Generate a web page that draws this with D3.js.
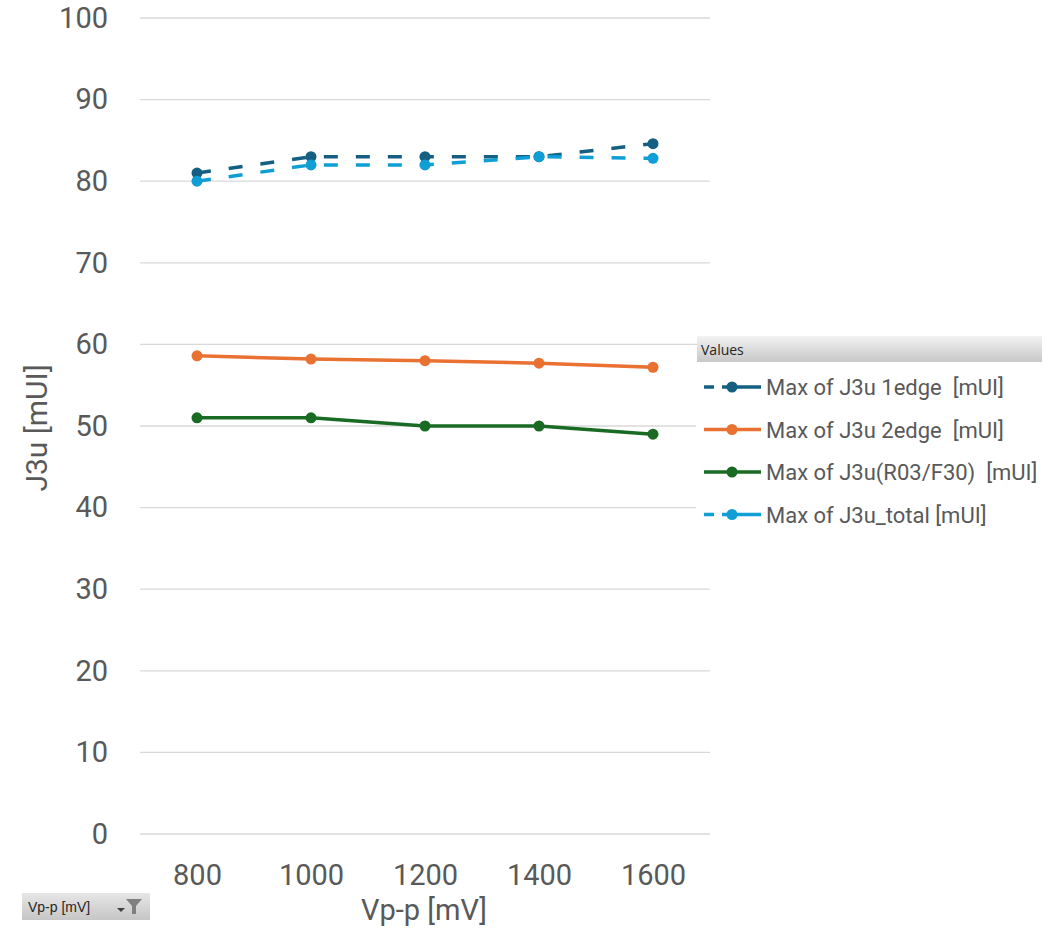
<html>
<head>
<meta charset="utf-8">
<script src="https://d3js.org/d3.v7.min.js"></script>
<style>
  body { margin: 0; background: #fff; }
  text { font-family: Roboto, "Noto Sans", sans-serif; }
</style>
</head>
<body>
<div id="chart"></div>
<script>

// data
var categories = [800, 1000, 1200, 1400, 1600];
var edge1 = [81.0, 83.0, 83.0, 83.0, 84.6];
var edge2 = [58.6, 58.2, 58.0, 57.7, 57.2];
var r03f30 = [51.0, 51.0, 50.0, 50.0, 49.0];
var total = [80.0, 82.0, 82.0, 83.0, 82.8];
var yTicks = [0, 10, 20, 30, 40, 50, 60, 70, 80, 90, 100];

var seriesNames = ["Max of J3u 1edge  [mUI]", "Max of J3u 2edge  [mUI]",
                   "Max of J3u(R03/F30)  [mUI]", "Max of J3u_total [mUI]"];
var seriesColors = ["#156082", "#E97132", "#196B24", "#0F9ED5"];
var seriesDashed = [true, false, false, true];
var seriesValues = [edge1, edge2, r03f30, total];

var series = seriesNames.map(function(n, i) {
  return { name: n, color: seriesColors[i], dashed: seriesDashed[i], values: seriesValues[i] };
});

var W = 1055, H = 931;
var plot = { left: 140, right: 710, top: 18, bottom: 834 };

var svg = d3.select("#chart").append("svg")
  .attr("width", W).attr("height", H);
var defs = svg.append("defs");

var x = d3.scalePoint()
  .domain(categories)
  .range([plot.left, plot.right])
  .padding(0.5);

var y = d3.scaleLinear()
  .domain([0, 100])
  .range([plot.bottom, plot.top]);

// gridlines
svg.append("g")
  .selectAll("line")
  .data(yTicks)
  .enter().append("line")
    .attr("x1", plot.left).attr("x2", plot.right)
    .attr("y1", function(d) { return y(d); })
    .attr("y2", function(d) { return y(d); })
    .attr("stroke", "#d9d9d9").attr("stroke-width", 1.3);

// y axis labels
var yAxis = svg.append("g")
  .attr("transform", "translate(" + (plot.left - 32) + ",0)")
  .call(d3.axisLeft(y).tickValues(yTicks).tickSize(0).tickPadding(0));
yAxis.select(".domain").remove();
yAxis.selectAll("text")
  .attr("fill", "#595959").style("font-size", "29px")
  .style("font-family", "Roboto, sans-serif");

// x axis labels
var xAxis = svg.append("g")
  .attr("transform", "translate(0," + (plot.bottom + 30) + ")")
  .call(d3.axisBottom(x).tickSize(0).tickPadding(0));
xAxis.select(".domain").remove();
xAxis.selectAll("text")
  .attr("fill", "#595959").style("font-size", "29px")
  .style("font-family", "Roboto, sans-serif");

// axis titles
svg.append("text")
  .attr("transform", "translate(47,428)rotate(-90)")
  .attr("text-anchor", "middle")
  .attr("fill", "#595959").style("font-size", "30px")
  .text("J3u [mUI]");

svg.append("text")
  .attr("x", 424).attr("y", 920)
  .attr("text-anchor", "middle")
  .attr("fill", "#595959").style("font-size", "29px")
  .text("Vp-p [mV]");

// lines
var line = d3.line()
  .x(function(d, i) { return x(categories[i]); })
  .y(function(d) { return y(d); });

var gs = svg.selectAll(".series")
  .data(series)
  .enter().append("g").attr("class", "series");

gs.append("path")
  .attr("d", function(d) { return line(d.values); })
  .attr("fill", "none")
  .attr("stroke", function(d) { return d.color; })
  .attr("stroke-width", 3.5)
  .attr("stroke-dasharray", function(d) { return d.dashed ? "14,18" : null; });

gs.selectAll("circle")
  .data(function(d) { return d.values.map(function(v, i) { return { v: v, i: i, c: d.color }; }); })
  .enter().append("circle")
    .attr("cx", function(d) { return x(categories[d.i]); })
    .attr("cy", function(d) { return y(d.v); })
    .attr("r", 5.5)
    .attr("fill", function(d) { return d.c; });

// legend
var legend = svg.append("g").attr("transform", "translate(697,336)");
var grad = defs.append("linearGradient")
  .attr("id", "hdr").attr("x1", 0).attr("y1", 0).attr("x2", 0).attr("y2", 1);
grad.append("stop").attr("offset", "0%").attr("stop-color", "#f2f2f2");
grad.append("stop").attr("offset", "100%").attr("stop-color", "#c8c8c8");

legend.append("rect")
  .attr("x", -1).attr("y", 26).attr("width", 348).attr("height", 200)
  .attr("fill", "#fff");
legend.append("rect")
  .attr("width", 345).attr("height", 26)
  .attr("fill", "url(#hdr)");
legend.append("text")
  .attr("x", 4).attr("y", 19)
  .attr("fill", "#262626").style("font-size", "14px")
  .style("font-family", "'Open Sans', sans-serif")
  .text("Values");

var items = legend.selectAll(".item")
  .data(series)
  .enter().append("g")
    .attr("transform", function(d, i) { return "translate(7," + (51 + i * 42.5) + ")"; });

items.append("line")
  .attr("x1", 0).attr("x2", 57).attr("y1", 0).attr("y2", 0)
  .attr("stroke", function(d) { return d.color; })
  .attr("stroke-width", 3.5)
  .attr("stroke-dasharray", function(d) { return d.dashed ? "10,8,39" : null; });
items.append("circle")
  .attr("cx", 28).attr("cy", 0).attr("r", 5.5)
  .attr("fill", function(d) { return d.color; });
items.append("text")
  .attr("x", 62).attr("y", 8)
  .attr("fill", "#595959").style("font-size", "22px")
  .style("white-space", "pre")
  .text(function(d) { return d.name; });

// field button bottom-left
var btnGrad = defs.append("linearGradient")
  .attr("id", "btn").attr("x1", 0).attr("y1", 0).attr("x2", 0).attr("y2", 1);
btnGrad.append("stop").attr("offset", "0%").attr("stop-color", "#e6e6e6");
btnGrad.append("stop").attr("offset", "100%").attr("stop-color", "#c6c6c6");

var btn = svg.append("g").attr("transform", "translate(22,893)");
btn.append("rect")
  .attr("width", 128).attr("height", 27)
  .attr("fill", "url(#btn)");
btn.append("text")
  .attr("x", 6).attr("y", 19)
  .attr("fill", "#262626").style("font-size", "14px")
  .style("font-family", "'Liberation Sans Narrow', 'Liberation Sans', sans-serif")
  .text("Vp-p [mV]");
btn.append("path")
  .attr("d", "M95,15 L103,15 L99,19 Z")
  .attr("fill", "#404040");
btn.append("path")
  .attr("d", "M104,6 L120,6 L114,13 L114,21 L110,21 L110,13 Z")
  .attr("fill", "#808080");

</script>
</body>
</html>
